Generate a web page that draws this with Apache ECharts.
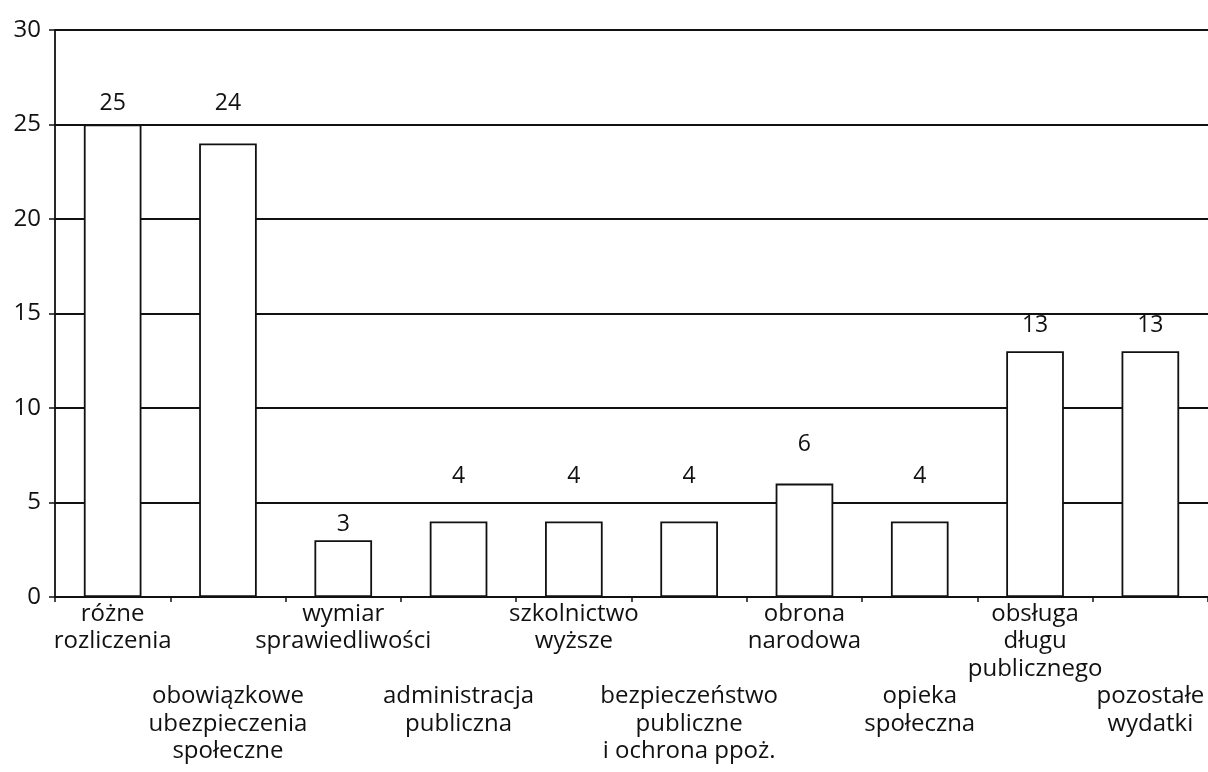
<!DOCTYPE html>
<html>
<head>
    <meta charset="utf-8" />
    <title>Wydatki</title>
    <style>
        html, body { margin: 0; padding: 0; background: #fff; }
        #chart { width: 1208px; height: 772px; }
    </style>
</head>
<body>
    <div id="chart"></div>
    <script src="https://cdn.jsdelivr.net/npm/echarts@6/dist/echarts.min.js"></script>
    <script>
        // kategorie wydatków
        var categories = [
            'różne\nrozliczenia',
            'obowiązkowe\nubezpieczenia\nspołeczne',
            'wymiar\nsprawiedliwości',
            'administracja\npubliczna',
            'szkolnictwo\nwyższe',
            'bezpieczeństwo\npubliczne\ni ochrona ppoż.',
            'obrona\nnarodowa',
            'opieka\nspołeczna',
            'obsługa\ndługu\npublicznego',
            'pozostałe\nwydatki'
        ];
        // wartości
        var values = [25, 24, 3, 4, 4, 4, 6, 4, 13, 13];
        // oś Y
        var yMin = 0, yMax = 30, yStep = 5;

        // odstęp etykiety wartości nad słupkiem (jak w oryginale, nierówny)
        var labelGap = [10, 28, 4, 33, 33, 33, 28, 33, 14, 14];

        var ink = '#111';
        var font = 'Open Sans';

        // co druga etykieta niżej (trzy puste wiersze)
        var labels = categories.map(function (c, i) {
            return i % 2 === 1 ? '\n\n\n' + c : c;
        });

        var barData = values.map(function (v, i) {
            return { value: v, label: { distance: labelGap[i] } };
        });

        var chart = echarts.init(document.getElementById('chart'));
        chart.setOption({
            backgroundColor: '#fff',
            animation: false,
            grid: { left: 55, top: 30, width: 1160, height: 567, containLabel: false },
            xAxis: {
                type: 'category',
                data: labels,
                axisLine: { show: true, lineStyle: { color: ink, width: 1.8 } },
                axisTick: { show: true, length: 5, lineStyle: { color: ink, width: 1.5 } },
                axisLabel: {
                    interval: 0,
                    margin: 3,
                    color: ink,
                    fontFamily: font,
                    fontSize: 24,
                    lineHeight: 27.5,
                    align: 'center',
                    verticalAlign: 'top'
                }
            },
            yAxis: {
                type: 'value',
                min: yMin,
                max: yMax,
                interval: yStep,
                axisLine: { show: true, lineStyle: { color: ink, width: 1.8 } },
                axisTick: { show: true, length: 6, lineStyle: { color: ink, width: 1.5 } },
                splitLine: { show: true, lineStyle: { color: ink, width: 1.8 } },
                axisLabel: { color: ink, fontFamily: font, fontSize: 24, margin: 14 }
            },
            series: [{
                type: 'bar',
                data: barData,
                barWidth: '50%',
                itemStyle: { color: '#fff', borderColor: ink, borderWidth: 1.8 },
                label: {
                    show: true,
                    position: 'top',
                    color: ink,
                    fontFamily: font,
                    fontSize: 23
                }
            }]
        });
    </script>
</body>
</html>
